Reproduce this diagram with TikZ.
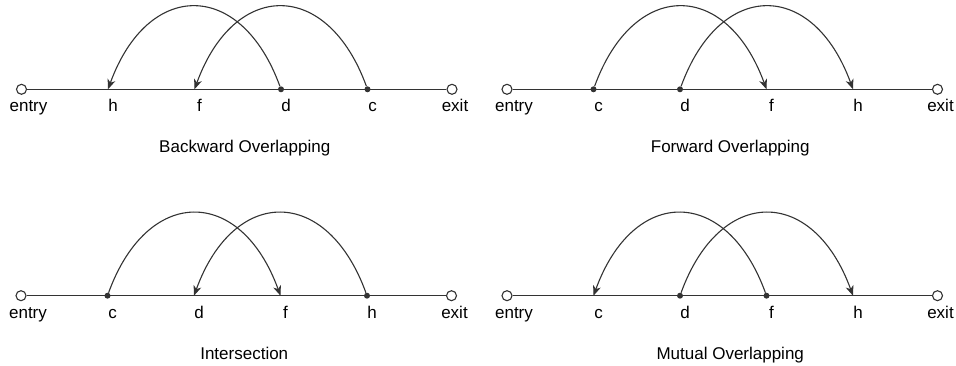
\documentclass[tikz,border=0pt]{standalone}
\usepackage{fontspec}
\setmainfont{Liberation Sans}
\usetikzlibrary{arrows.meta}
\newcommand\drawpanel[8]{%
  \begin{scope}[shift={(#2)}]
    \node[port] (#1-entry) at (0,0) {};
    \node[port] (#1-exit) at (430.5,0) {};
    \coordinate (#1-1) at (86.5,0);
    \coordinate (#1-2) at (173,0);
    \coordinate (#1-3) at (259.5,0);
    \coordinate (#1-4) at (346,0);
    \draw[ln] (#1-entry) -- (#1-exit);
    \node[lbl] (#1-lentry) at (7,22.5) {entry};
    \node[lbl] (#1-l1) at (91.5,22.5) {#3};
    \node[lbl] (#1-l2) at (178,22.5) {#4};
    \node[lbl] (#1-l3) at (264.5,22.5) {#5};
    \node[lbl] (#1-l4) at (351,22.5) {#6};
    \node[lbl] (#1-lexit) at (433.5,22.5) {exit};
    \node[lbl] (#1-title) at (223.25,63.4) {#7};
  \end{scope}}
\begin{document}
\begin{tikzpicture}[x=1pt,y=-1pt,
  ln/.style={line width=1.3pt, draw=black!80},
  port/.style={circle, draw=black!80, line width=1.1pt, fill=white, minimum size=10pt, inner sep=0pt},
  dot/.style={circle, fill=black!80, minimum size=6pt, inner sep=0pt},
  lbl/.style={font=\fontsize{17}{20}\selectfont, anchor=base, inner sep=0pt},
  jump/.style={line width=1.1pt, draw=black!80, -{Stealth[length=10pt,width=8pt,inset=3pt]}},
  fwd/.style={jump},
]
\useasboundingbox (0,0) rectangle (956,366);

% Backward Overlapping
\drawpanel{A}{21.5,89.3}{h}{f}{d}{c}{Backward Overlapping}{}
\node[dot] (A-d) at (A-3) {};
\node[dot] (A-c) at (A-4) {};
\draw[jump] (A-d) .. controls +(-40,-110) and +(40,-110) .. (A-1);
\draw[jump] (A-c) .. controls +(-40,-110) and +(40,-110) .. (A-2);

% Forward Overlapping
\drawpanel{B}{507,89.3}{c}{d}{f}{h}{Forward Overlapping}{}
\node[dot] (B-c) at (B-1) {};
\node[dot] (B-d) at (B-2) {};
\draw[jump] (B-c) .. controls +(40,-110) and +(-40,-110) .. (B-3);
\draw[jump] (B-d) .. controls +(40,-110) and +(-40,-110) .. (B-4);

% Intersection
\drawpanel{C}{21,295.7}{c}{d}{f}{h}{Intersection}{}
\node[dot] (C-c) at (C-1) {};
\node[dot] (C-h) at (C-4) {};
\draw[jump] (C-c) .. controls +(40,-110) and +(-40,-110) .. (C-3);
\draw[jump] (C-h) .. controls +(-40,-110) and +(40,-110) .. (C-2);

% Mutual Overlapping
\drawpanel{D}{507,295.7}{c}{d}{f}{h}{Mutual Overlapping}{}
\node[dot] (D-d) at (D-2) {};
\node[dot] (D-f) at (D-3) {};
\draw[jump] (D-f) .. controls +(-40,-110) and +(40,-110) .. (D-1);
\draw[jump] (D-d) .. controls +(40,-110) and +(-40,-110) .. (D-4);
\end{tikzpicture}
\end{document}
